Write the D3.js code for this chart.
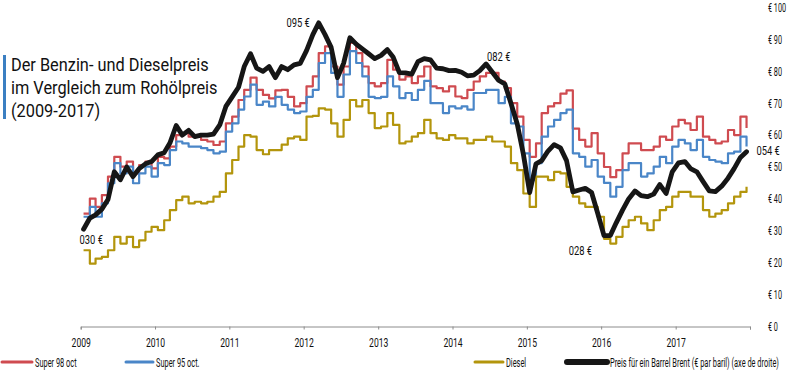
<!DOCTYPE html>
<html>
<head>
<meta charset="utf-8">
<script src="https://cdn.jsdelivr.net/npm/d3@7"></script>
<style>
  body { margin: 0; background: #fff; }
  svg text { font-family: Roboto, "Liberation Sans", sans-serif; fill: #111; }
</style>
</head>
<body>
<div id="chart"></div>
<script>
// DATA //

// monthly values, Jan 2009 .. Dec 2017 (euro scale on the right)
const brent = [
  30.5, 34, 35, 36.8, 39.8, 48.5, 46, 50, 47, 49.5, 51, 51.7,
  53.8, 54.5, 57.5, 63, 60, 61.5, 59.5, 60, 60, 60.3, 63.2, 69,
  72, 75, 81.5, 85.5, 81, 80, 81.5, 78, 81.5, 80.5, 82, 82.5,
  86.5, 91.5, 95.2, 91.5, 87.5, 78, 82.5, 90.5, 88.5, 87, 85.5, 84,
  85, 86.8, 84.5, 79.6, 79.5, 79.1, 83, 84, 83.6, 81, 80.8, 80.2,
  80.3, 79.7, 78.6, 78.8, 80.2, 82.3, 79.8, 77.2, 76, 70, 63.5, 54,
  42, 51, 52, 55, 57, 56, 52, 42.2, 42.8, 43.3, 42, 35.5,
  28.5, 28.5, 32.5, 36.5, 40, 42.5, 41, 40.7, 41.5, 44.5, 41.7, 48.5,
  51.3, 51.7, 49.5, 48.5, 45.5, 42.5, 42.3, 44, 46.5, 49.5, 53, 54.8
];
const super98 = [
  35.4, 40.1, 37.5, 41.2, 47, 53.2, 50.1, 51.7, 48, 50.6, 51.7, 49.6,
  53.2, 52.7, 56.4, 60, 60.6, 59.5, 59.5, 58.5, 58, 56.9, 58, 63.7,
  65.8, 71, 74.2, 78, 74.2, 72.6, 71.5, 74, 74.2, 72, 69, 70,
  75.3, 78.4, 85.7, 87.8, 81.5, 75.8, 81.5, 88.9, 85.7, 81.5, 76.3, 75.3,
  76.3, 83.6, 80.5, 77.4, 78.4, 76.3, 78.4, 81.5, 75.3, 74.7, 73.7, 75.3,
  72.1, 71.6, 74.2, 76.8, 78.4, 79.5, 79.5, 76.8, 74.7, 70, 65.8, 58.5,
  53.2, 57.4, 66.9, 69, 70, 73, 74, 62, 58.5, 56.4, 60.6, 54.3,
  50, 46.8, 49, 54.3, 57.4, 57.4, 55.3, 55.3, 56.4, 59.5, 58.5, 62.7,
  64.8, 63.7, 61.6, 65.8, 59.5, 58.5, 57.4, 58, 61.6, 60, 65.8, 62.2
];
const super95 = [
  34.4, 37.5, 34.4, 38.6, 44.9, 51.2, 48, 50.1, 44.9, 48, 50.1, 47,
  51.2, 50.6, 55.3, 58, 57.4, 56.4, 56.4, 55.9, 55.3, 54.3, 54.8, 61.1,
  63.7, 68, 72.1, 75.8, 69.5, 70.5, 69, 72, 69.5, 68, 66.9, 67.4,
  72, 74.2, 82.6, 85.7, 79.5, 72, 79, 86.3, 82.6, 78.4, 72, 71.6,
  72, 78.4, 75.3, 71.6, 73.2, 71, 74.2, 77, 70, 70, 66.9, 69,
  68.4, 69, 68, 73.2, 73.2, 74.2, 74.2, 70, 72, 63.7, 62.7, 54.3,
  45.9, 51.2, 59.5, 62.7, 64.8, 66.9, 68, 54.3, 53.2, 50.1, 52.2, 47,
  45, 40.7, 43.8, 49, 51.2, 51.2, 47, 48, 50.1, 53.2, 51.2, 56.4,
  58.5, 57.4, 55.3, 58.5, 53.2, 52.2, 51.7, 51.2, 54.3, 54.8, 59.5, 56.4
];
const diesel = [
  23.9, 19.7, 21.3, 21.8, 23.9, 28.1, 26, 28.1, 24.9, 27, 29.7, 31.2,
  30.2, 33.3, 36.5, 39.6, 40.7, 38.6, 39.1, 38.6, 39.1, 40.7, 42.2, 48,
  52.2, 56.4, 60, 59.5, 55.3, 54, 55.3, 55.3, 57, 59, 59.5, 58.5,
  65.8, 66, 68.4, 68, 63.7, 59.5, 64.8, 71, 69, 71, 66.9, 62.2,
  62.7, 66.9, 63.2, 57.4, 58, 59.5, 60.6, 64.8, 60.6, 59, 58.5, 60,
  59, 59, 57.4, 58.5, 58.5, 59.5, 58, 58, 56.4, 51.2, 49, 41.7,
  37.5, 47, 47, 45.9, 48.5, 48, 43.8, 40.7, 38.6, 37.5, 37.5, 34.4,
  27.5, 26, 28.1, 31.2, 33.3, 34.4, 32.3, 30.2, 33.3, 36.5, 37.5, 40.7,
  42.2, 42.2, 40.7, 40.7, 36.5, 34.4, 35.4, 36.5, 38.6, 40.7, 42.2, 43.8
];

const yearLabels = ["2009", "2010", "2011", "2012", "2013", "2014", "2015", "2016", "2017"];
const euroTicks = [0, 10, 20, 30, 40, 50, 60, 70, 80, 90, 100];
const titleLines = ["Der Benzin- und Dieselpreis", "im Vergleich zum Rohölpreis", "(2009-2017)"];

// brent labels: index of the month they belong to
const brentLabels = [
  {i: 0, text: "030 €"},
  {i: 38, text: "095 €"},
  {i: 65, text: "082 €"},
  {i: 84, text: "028 €"},
  {i: 107, text: "054 €"}
];

// plotted at mid-month
const months = d3.timeMonth.range(new Date(2009, 0, 1), new Date(2018, 0, 1))
  .map(d => d3.timeDay.offset(d, 14));

const series = [
  {name: "Super 98 oct", values: super98, color: "#cf4b50", width: 2.2},
  {name: "Super 95 oct.", values: super95, color: "#4a86c8", width: 2.2},
  {name: "Diesel", values: diesel, color: "#b3950c", width: 2.2},
  {name: "Preis für ein Barrel Brent (€ par baril) (axe de droite)", values: brent, color: "#161616", width: 4.8}
];

// DIMENSIONS //

const W = 790, H = 375;

const svg = d3.select("#chart").append("svg")
  .attr("width", W)
  .attr("height", H);

const x = d3.scaleTime()
  .domain([new Date(2009, 0, 1), new Date(2018, 0, 1)])
  .range([80.7, 750]);

const y = d3.scaleLinear()
  .domain([0, 100])
  .range([326.5, 7.5]);

// the original uses a condensed face; squeeze the installed one horizontally
function squeeze(k) {
  return (px, py) => `translate(${px},${py}) scale(${k},1)`;
}

// X AXIS //

const xAxis = svg.append("g")
  .attr("transform", "translate(0,326.5)")
  .call(d3.axisBottom(x)
    .ticks(d3.timeYear.every(1))
    .tickSize(3)
    .tickFormat(d => yearLabels.includes(String(d.getFullYear())) ? String(d.getFullYear()) : ""));

xAxis.select(".domain").attr("stroke", "#8c8c8c");
xAxis.selectAll(".tick line").attr("stroke", "#8c8c8c");
xAxis.selectAll(".tick text")
  .attr("y", 0)
  .attr("dy", 0)
  .attr("transform", squeeze(0.66)(0, 20))
  .style("font-size", "13px")
  .style("fill", "#111");

// Y AXIS (right, labels only) //

svg.append("g")
  .selectAll("text")
  .data(euroTicks)
  .join("text")
  .attr("transform", d => squeeze(0.58)(768, y(d)))
  .attr("dy", "0.35em")
  .style("font-size", "12.5px")
  .text(d => "€ " + d);

// LINES //

const stepLine = d3.line()
  .x((d, i) => x(months[i]))
  .y(d => y(d))
  .curve(d3.curveStepAfter);

const smoothLine = d3.line()
  .x((d, i) => x(months[i]))
  .y(d => y(d));

svg.append("g")
  .selectAll("path")
  .data(series)
  .join("path")
  .attr("fill", "none")
  .attr("stroke", d => d.color)
  .attr("stroke-width", d => d.width)
  .attr("stroke-linejoin", "round")
  .attr("stroke-linecap", d => d.values === brent ? "round" : "butt")
  .attr("d", d => d.values === brent ? smoothLine(d.values) : stepLine(d.values));

// brent value labels
const labelOffset = {
  0: {dx: -4, dy: 15, anchor: "start"},
  38: {dx: -9, dy: 4, anchor: "end"},
  65: {dx: 1, dy: -3, anchor: "start"},
  84: {dx: -12, dy: 19, anchor: "end"},
  107: {dx: 10, dy: 3, anchor: "start"}
};

svg.append("g")
  .selectAll("text")
  .data(brentLabels)
  .join("text")
  .attr("transform", d => squeeze(0.72)(x(months[d.i]) + labelOffset[d.i].dx, y(brent[d.i]) + labelOffset[d.i].dy))
  .attr("text-anchor", d => labelOffset[d.i].anchor)
  .style("font-size", "13px")
  .text(d => d.text);

// TITLE //

svg.append("rect")
  .attr("x", 3).attr("y", 55)
  .attr("width", 3).attr("height", 64)
  .attr("fill", "#3b7fc2");

svg.append("g")
  .selectAll("text")
  .data(titleLines)
  .join("text")
  .attr("transform", (d, i) => squeeze(0.86)(11, 70.5 + i * 23))
  .style("font-size", "19px")
  .text(d => d);

// LEGEND //

const legendPos = [
  {x1: 2, x2: 32},
  {x1: 126, x2: 153},
  {x1: 475, x2: 503},
  {x1: 567, x2: 607}
];

const legend = svg.append("g").attr("transform", "translate(0,362)");

legend.selectAll("line")
  .data(series)
  .join("line")
  .attr("x1", (d, i) => legendPos[i].x1)
  .attr("x2", (d, i) => legendPos[i].x2)
  .attr("stroke", d => d.color)
  .attr("stroke-width", (d, i) => i === 3 ? 6 : 3)
  .attr("stroke-linecap", "round");

legend.selectAll("text")
  .data(series)
  .join("text")
  .attr("transform", (d, i) => squeeze(0.57)(legendPos[i].x2 + 3, 0))
  .attr("dy", "0.35em")
  .style("font-size", "13px")
  .text(d => d.name);
</script>
</body>
</html>
